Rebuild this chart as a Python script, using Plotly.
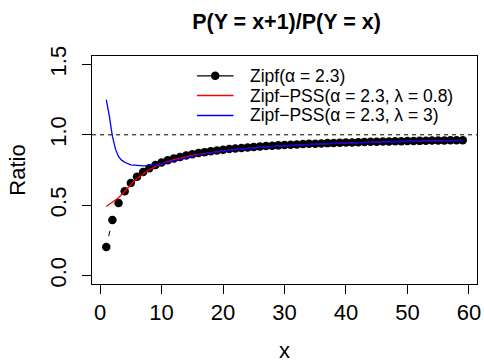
import math
import plotly.graph_objects as go

x_vals = list(range(1, 60))
zipf_ratio = [0.203, 0.394, 0.516, 0.599, 0.658, 0.702, 0.736, 0.763, 0.785, 0.803,
              0.819, 0.832, 0.843, 0.853, 0.862, 0.870, 0.877, 0.883, 0.889, 0.894,
              0.899, 0.903, 0.907, 0.910, 0.914, 0.917, 0.920, 0.923, 0.925, 0.927,
              0.930, 0.932, 0.934, 0.936, 0.937, 0.939, 0.941, 0.942, 0.943, 0.945,
              0.946, 0.947, 0.949, 0.950, 0.951, 0.952, 0.953, 0.954, 0.955, 0.956,
              0.956, 0.957, 0.958, 0.959, 0.959, 0.960, 0.961, 0.961, 0.962]
pss_l08 = [0.490, 0.523, 0.553, 0.597, 0.648, 0.690, 0.724, 0.752, 0.775, 0.794,
           0.810, 0.823, 0.834, 0.844, 0.853, 0.861, 0.868, 0.875, 0.881, 0.886,
           0.891, 0.896, 0.900, 0.904, 0.908, 0.911, 0.914, 0.917, 0.920, 0.922,
           0.925, 0.927, 0.929, 0.931, 0.933, 0.935, 0.937, 0.939, 0.940, 0.942,
           0.943, 0.945, 0.946, 0.947, 0.949, 0.950, 0.951, 0.952, 0.953, 0.954,
           0.955, 0.956, 0.956, 0.957, 0.958, 0.959, 0.959, 0.960, 0.961]
pss_l3_x = [1, 1.25, 1.5, 1.75, 2, 2.5, 3, 3.5, 4] + list(range(5, 60))
pss_l3 = [1.250, 1.200, 1.135, 1.060, 0.990, 0.898, 0.845, 0.820, 0.805,
          0.787, 0.781, 0.779, 0.781, 0.787, 0.793,
          0.805, 0.816, 0.827, 0.838, 0.848, 0.857, 0.865, 0.872, 0.878, 0.884,
          0.889, 0.894, 0.899, 0.903, 0.907, 0.910, 0.914, 0.917, 0.920, 0.922,
          0.925, 0.927, 0.930, 0.932, 0.934, 0.935, 0.937, 0.939, 0.940, 0.942,
          0.943, 0.945, 0.946, 0.947, 0.948, 0.949, 0.950, 0.951, 0.952, 0.953,
          0.954, 0.955, 0.956, 0.957, 0.958, 0.958, 0.959, 0.960, 0.961]
ref_level = 1.0
x_ticks = [0, 10, 20, 30, 40, 50, 60]
y_ticks = [0.0, 0.5, 1.0, 1.5]
y_ticktext = ["0.0", "0.5", "1.0", "1.5"]
names = ["Zipf(α = 2.3)", "Zipf−PSS(α = 2.3, λ = 0.8)", "Zipf−PSS(α = 2.3, λ = 3)"]
colors = ["black", "#ff0000", "#0000ff"]

FONT = "Liberation Sans, Arial, sans-serif"
W, H = 484, 363
ML, MR, MT, MB = 92, 3, 56, 79
XR = [-1.32, 61.32]
YR = [-0.06, 1.56]
PW, PH = W - ML - MR, H - MT - MB
px_x = PW / (XR[1] - XR[0])
px_y = PH / (YR[1] - YR[0])

# R type="b": connecting segments leave a gap around each point
GAP = 11.0
seg_x, seg_y = [], []
for i in range(len(x_vals) - 1):
    x1, y1, x2, y2 = x_vals[i], zipf_ratio[i], x_vals[i + 1], zipf_ratio[i + 1]
    d = math.hypot((x2 - x1) * px_x, (y2 - y1) * px_y)
    if d > 2 * GAP:
        t = GAP / d
        seg_x += [x1 + t * (x2 - x1), x2 - t * (x2 - x1), None]
        seg_y += [y1 + t * (y2 - y1), y2 - t * (y2 - y1), None]

fig = go.Figure()
fig.add_trace(go.Scatter(x=seg_x, y=seg_y, mode="lines",
                         line=dict(color="black", width=1), hoverinfo="skip"))
fig.add_trace(go.Scatter(x=x_vals, y=zipf_ratio, mode="markers", name=names[0],
                         marker=dict(color="black", size=8.5)))
fig.add_trace(go.Scatter(x=x_vals, y=pss_l08, mode="lines", name=names[1],
                         line=dict(color=colors[1], width=1.3)))
fig.add_trace(go.Scatter(x=pss_l3_x, y=pss_l3, mode="lines", name=names[2],
                         line=dict(color=colors[2], width=1.3)))
fig.add_hline(y=ref_level, line=dict(color="black", width=1, dash="4px,4px"))

# manual legend (R style, no box)
def px2paper_x(px):
    return (px - ML) / PW

def px2paper_y(py):
    return (H - MB - py) / PH

leg_rows = [75.8, 95.6, 115.4]
for name, col, ry in zip(names, colors, leg_rows):
    fig.add_shape(type="line", xref="paper", yref="paper",
                  x0=px2paper_x(198), x1=px2paper_x(235),
                  y0=px2paper_y(ry), y1=px2paper_y(ry),
                  line=dict(color=col, width=1.5 if col != "black" else 1.3))
    fig.add_annotation(xref="paper", yref="paper", x=px2paper_x(251), y=px2paper_y(ry),
                       xanchor="left", yanchor="middle", showarrow=False, borderpad=0,
                       text=name, font=dict(size=17.5, color="black"))
fig.add_shape(type="circle", xref="paper", yref="paper",
              xsizemode="pixel", ysizemode="pixel",
              xanchor=px2paper_x(216.5), yanchor=px2paper_y(leg_rows[0]),
              x0=-4.25, x1=4.25, y0=-4.25, y1=4.25,
              fillcolor="black", line=dict(color="black", width=0))

fig.update_layout(
    width=W, height=H,
    margin=dict(l=ML, r=MR, t=MT, b=MB),
    paper_bgcolor="white", plot_bgcolor="white",
    font=dict(family=FONT, color="black", size=22),
    title=dict(text="<b>P(Y = x+1)/P(Y = x)</b>", x=(ML + W - MR) / 2 / W, xanchor="center",
               y=1 - 21 / H, yanchor="middle", font=dict(size=21.5)),
    showlegend=False,
    xaxis=dict(range=XR, tickvals=x_ticks, ticks="outside", ticklen=9,
               tickcolor="black", showline=True, linecolor="black", linewidth=1,
               mirror=True, showgrid=False, zeroline=False, ticklabeloverflow="allow",
               ticklabelstandoff=0,
               tickfont=dict(size=22), title=dict(text="x", font=dict(size=22), standoff=18)),
    yaxis=dict(range=YR, tickvals=y_ticks, ticktext=y_ticktext, ticks="outside",
               ticklen=9, tickcolor="black", showline=True, linecolor="black", linewidth=1,
               mirror=True, showgrid=False, zeroline=False, tickangle=-90,
               ticklabelstandoff=7,
               tickfont=dict(size=22), title=dict(text="Ratio", font=dict(size=22), standoff=14)),
)

fig.write_html("out.html")
